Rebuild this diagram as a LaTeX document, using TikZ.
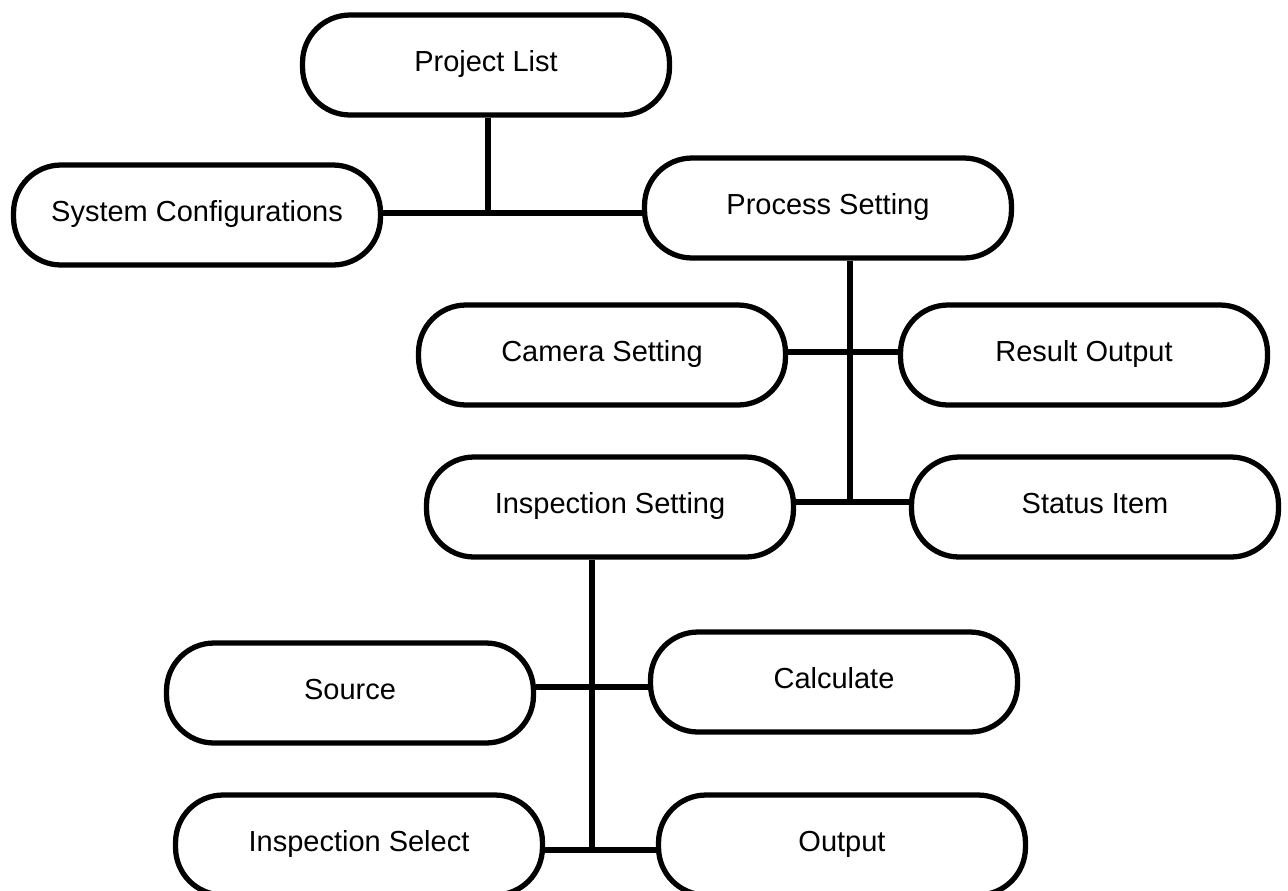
\documentclass[tikz,border=0pt]{standalone}
\usepackage{fontspec}
\setmainfont{Liberation Sans}

\begin{document}
\begin{tikzpicture}[
   x=0.02cm, y=-0.02cm,
   pill/.style={draw, line width=3pt, fill=white, rounded corners=0.95cm,
                minimum width=7.34cm, minimum height=2.0cm, inner sep=0pt,
                font=\fontsize{16.5}{19}\selectfont,
                text height=0.86em, text depth=0.1em},
   ln/.style={line width=3pt}]
  \useasboundingbox (0,0) rectangle (1288,890);
  \node[pill] (plist)  at (486,65)  {Project List};
  \node[pill] (syscfg) at (197,215) {System Configurations};
  \node[pill] (proc)   at (828,208) {Process Setting};
  \node[pill] (cam)    at (602,355) {Camera Setting};
  \node[pill] (res)    at (1084,355) {Result Output};
  \node[pill] (insp)   at (610,507) {Inspection Setting};
  \node[pill] (stat)   at (1095,507) {Status Item};
  \node[pill] (src)    at (350,693) {Source};
  \node[pill] (calc)   at (834,682) {Calculate};
  \node[pill] (isel)   at (359,845) {Inspection Select};
  \node[pill] (out)    at (842,845) {Output};
  % junctions
  \coordinate (j1) at (488,213);
  \coordinate (j2) at (850,352);
  \coordinate (j3) at (850,502);
  \coordinate (j4) at (592,687);
  \coordinate (j5) at (592,850);
  \draw[ln] (plist.south -| j1) -- (j1);
  \draw[ln] (proc.south -| j2) -- (j3);
  \draw[ln] (insp.south -| j4) -- (j5);
  \foreach \a/\b/\j in {syscfg/proc/j1, cam/res/j2, insp/stat/j3, src/calc/j4, isel/out/j5}
    {\draw[ln] (\a.east |- \j) -- (\b.west |- \j);}
\end{tikzpicture}
\end{document}
